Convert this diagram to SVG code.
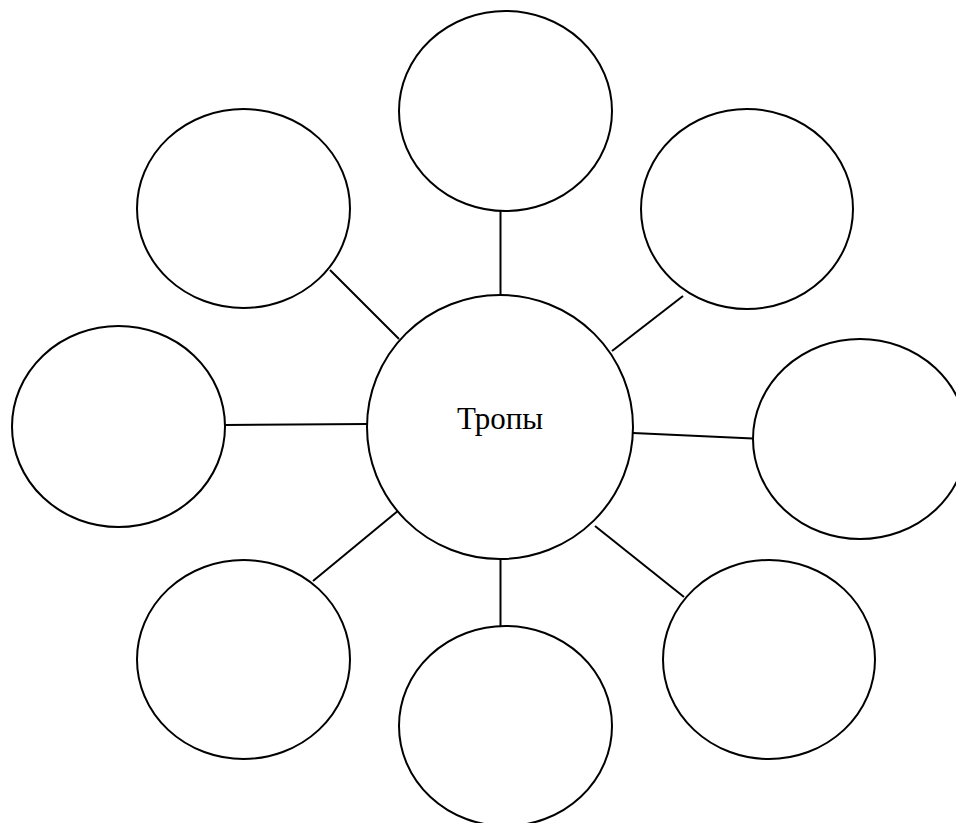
<svg xmlns="http://www.w3.org/2000/svg" width="956" height="823" viewBox="0 0 956 823">
<style>
.n{fill:#fff;stroke:#000;stroke-width:2}
.c line{stroke:#000;stroke-width:2}
.t{font-family:"Liberation Serif","Times New Roman",serif;font-size:31px;fill:#000}
</style>
<rect width="956" height="823" fill="#fff"/>
<g class="c" id="connectors">
<line x1="500.5" y1="208" x2="500.5" y2="296"/>
<line x1="330" y1="270" x2="399" y2="339"/>
<line x1="683" y1="296" x2="612" y2="351"/>
<line x1="225" y1="425" x2="368" y2="424"/>
<line x1="633" y1="433" x2="753" y2="438.5"/>
<line x1="313" y1="581" x2="399" y2="510"/>
<line x1="500.5" y1="558" x2="500.5" y2="626"/>
<line x1="595" y1="526" x2="684" y2="597"/>
</g>
<g id="n-top"><ellipse class="n" cx="505.5" cy="111" rx="106.5" ry="100"/></g>
<g id="n-topleft"><ellipse class="n" cx="243.5" cy="208.5" rx="106.5" ry="99.5"/></g>
<g id="n-topright"><ellipse class="n" cx="747" cy="209" rx="106" ry="100"/></g>
<g id="n-left"><ellipse class="n" cx="118.5" cy="426.5" rx="106.5" ry="100.5"/></g>
<g id="n-right"><ellipse class="n" cx="860" cy="439" rx="107" ry="100"/></g>
<g id="n-bottomleft"><ellipse class="n" cx="243.5" cy="659.5" rx="106.5" ry="99.5"/></g>
<g id="n-bottom"><ellipse class="n" cx="505.5" cy="726" rx="106.5" ry="100"/></g>
<g id="n-bottomright"><ellipse class="n" cx="769" cy="659.5" rx="106" ry="99.5"/></g>
<g id="n-center"><ellipse class="n" cx="500" cy="427" rx="133" ry="132"/>
<text class="t" x="500" y="429" text-anchor="middle">Тропы</text></g>
</svg>
